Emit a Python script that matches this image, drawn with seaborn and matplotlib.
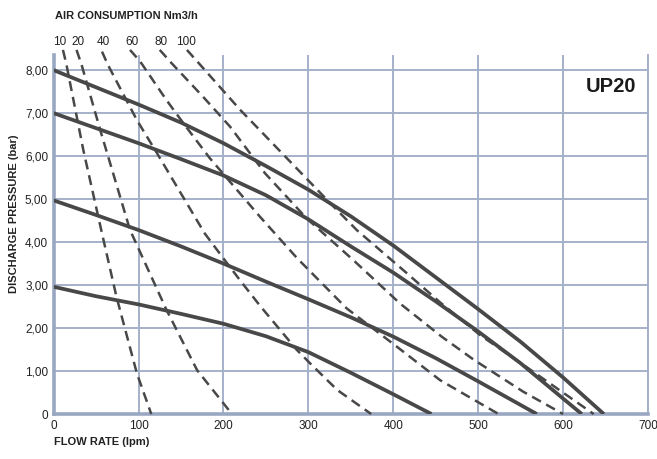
import numpy as np
import pandas as pd
import matplotlib
matplotlib.use('Agg')
import matplotlib.pyplot as plt
import seaborn as sns

# pump curves at different air inlet pressures (bar)
flow_8 = [0, 50, 100, 150, 200, 250, 300, 350, 400, 450, 500, 550, 600, 648]
pres_8 = [8.0, 7.6, 7.2, 6.78, 6.3, 5.77, 5.22, 4.6, 3.92, 3.18, 2.44, 1.68, 0.85, 0]

flow_7 = [0, 50, 100, 150, 200, 250, 300, 350, 400, 450, 500, 550, 600, 622]
pres_7 = [7.0, 6.65, 6.3, 5.93, 5.55, 5.09, 4.53, 3.9, 3.29, 2.62, 1.92, 1.18, 0.36, 0]

flow_5 = [0, 50, 100, 150, 200, 250, 300, 350, 400, 450, 500, 550, 569]
pres_5 = [4.97, 4.63, 4.28, 3.9, 3.5, 3.08, 2.67, 2.25, 1.8, 1.3, 0.76, 0.21, 0]

flow_3 = [0, 50, 100, 150, 200, 250, 300, 350, 400, 445]
pres_3 = [2.96, 2.74, 2.55, 2.33, 2.1, 1.81, 1.44, 0.96, 0.46, 0]

# air consumption lines (Nm3/h)
air_10_q = [11, 15, 35, 57, 74, 98, 115]
air_10_p = [8.47, 8.14, 6.14, 4.2, 2.73, 0.95, 0]
air_20_q = [27, 33, 55, 90, 133, 169, 210]
air_20_p = [8.47, 8.12, 6.6, 4.28, 2.42, 1.02, 0]
air_40_q = [57, 64, 98, 122, 178, 200, 220, 243, 286, 302, 334, 374]
air_40_p = [8.43, 8.12, 6.84, 6.06, 4.2, 3.62, 3.1, 2.52, 1.5, 1.18, 0.56, 0]
air_60_q = [90, 102, 133, 153, 184, 243, 287, 345, 404, 455, 475, 524]
air_60_p = [8.47, 8.2, 7.3, 6.76, 5.95, 4.59, 3.62, 2.46, 1.57, 0.79, 0.56, 0]
air_80_q = [125, 139, 176, 208, 249, 298, 353, 408, 457, 495, 553, 600]
air_80_p = [8.47, 8.16, 7.38, 6.68, 5.6, 4.55, 3.58, 2.57, 1.8, 1.26, 0.52, 0]
air_100_q = [157, 171, 220, 243, 326, 357, 414, 455, 502, 560, 636]
air_100_p = [8.47, 8.16, 7.07, 6.6, 4.9, 4.28, 3.31, 2.6, 1.84, 1.05, 0]

air_labels = ['10', '20', '40', '60', '80', '100']

x_ticks = [0, 100, 200, 300, 400, 500, 600, 700]
y_ticks = [0, 1, 2, 3, 4, 5, 6, 7, 8]
y_tick_labels = ['0', '1,00', '2,00', '3,00', '4,00', '5,00', '6,00', '7,00', '8,00']

sns.set_style('white')
plt.rcParams['font.family'] = ['Liberation Sans Narrow', 'Liberation Sans', 'DejaVu Sans']

grid_col = '#a4b1ca'
line_col = '#484848'
text_col = '#222222'

fig = plt.figure(figsize=(6.57, 4.59), dpi=100)
ax = fig.add_axes([0.0816, 0.098, 0.9047, 0.782])

solid = [(flow_8, pres_8), (flow_7, pres_7), (flow_5, pres_5), (flow_3, pres_3)]
for q, p in solid:
    sns.lineplot(x=q, y=p, ax=ax, color=line_col, linewidth=2.7,
                 sort=False, estimator=None, solid_capstyle='butt',
                 solid_joinstyle='round', zorder=3)

dashed = [(air_10_q, air_10_p), (air_20_q, air_20_p), (air_40_q, air_40_p),
          (air_60_q, air_60_p), (air_80_q, air_80_p), (air_100_q, air_100_p)]
# small nudges so the labels sit where the reference has them
label_shift = [-3.5, 2, 1, 2, 2, -1]
for (q, p), lab, dx in zip(dashed, air_labels, label_shift):
    sns.lineplot(x=q, y=p, ax=ax, color=line_col, linewidth=1.8,
                 linestyle=(0, (4, 2.4)), sort=False, estimator=None,
                 clip_on=False, zorder=3)
    ax.text(q[0] + dx, 8.66, lab, ha='center', va='center', fontsize=8.5,
            color=text_col, clip_on=False)

ax.set_xlim(0, 700)
ax.set_ylim(0, 8.35)
ax.set_xticks(x_ticks)
ax.set_yticks(y_ticks)
ax.set_yticklabels(y_tick_labels)
ax.tick_params(length=0, labelsize=8.5, colors=text_col, pad=4)
ax.grid(True, color=grid_col, linewidth=1.4)
ax.set_axisbelow(True)
ax.spines['top'].set_visible(False)
ax.spines['right'].set_color(grid_col)
ax.spines['right'].set_linewidth(1.4)
for side in ['left', 'bottom']:
    ax.spines[side].set_color('#9aa7c2')
    ax.spines[side].set_linewidth(2.6)

ax.set_xlabel('FLOW RATE (lpm)', fontsize=8, fontweight='bold', loc='left',
              labelpad=4, color=text_col)
fig.text(0.021, 0.535, 'DISCHARGE PRESSURE (bar)', rotation=90, ha='center', va='center',
         fontsize=8, fontweight='bold', color=text_col)
fig.text(0.084, 0.966, 'AIR CONSUMPTION Nm3/h', ha='left', va='center',
         fontsize=8, fontweight='bold', color=text_col)
ax.text(656, 7.61, 'UP20', ha='center', va='center', fontsize=14.5, fontweight='bold',
        color='#1a1a1a')

fig.savefig('out.png', dpi=100)
